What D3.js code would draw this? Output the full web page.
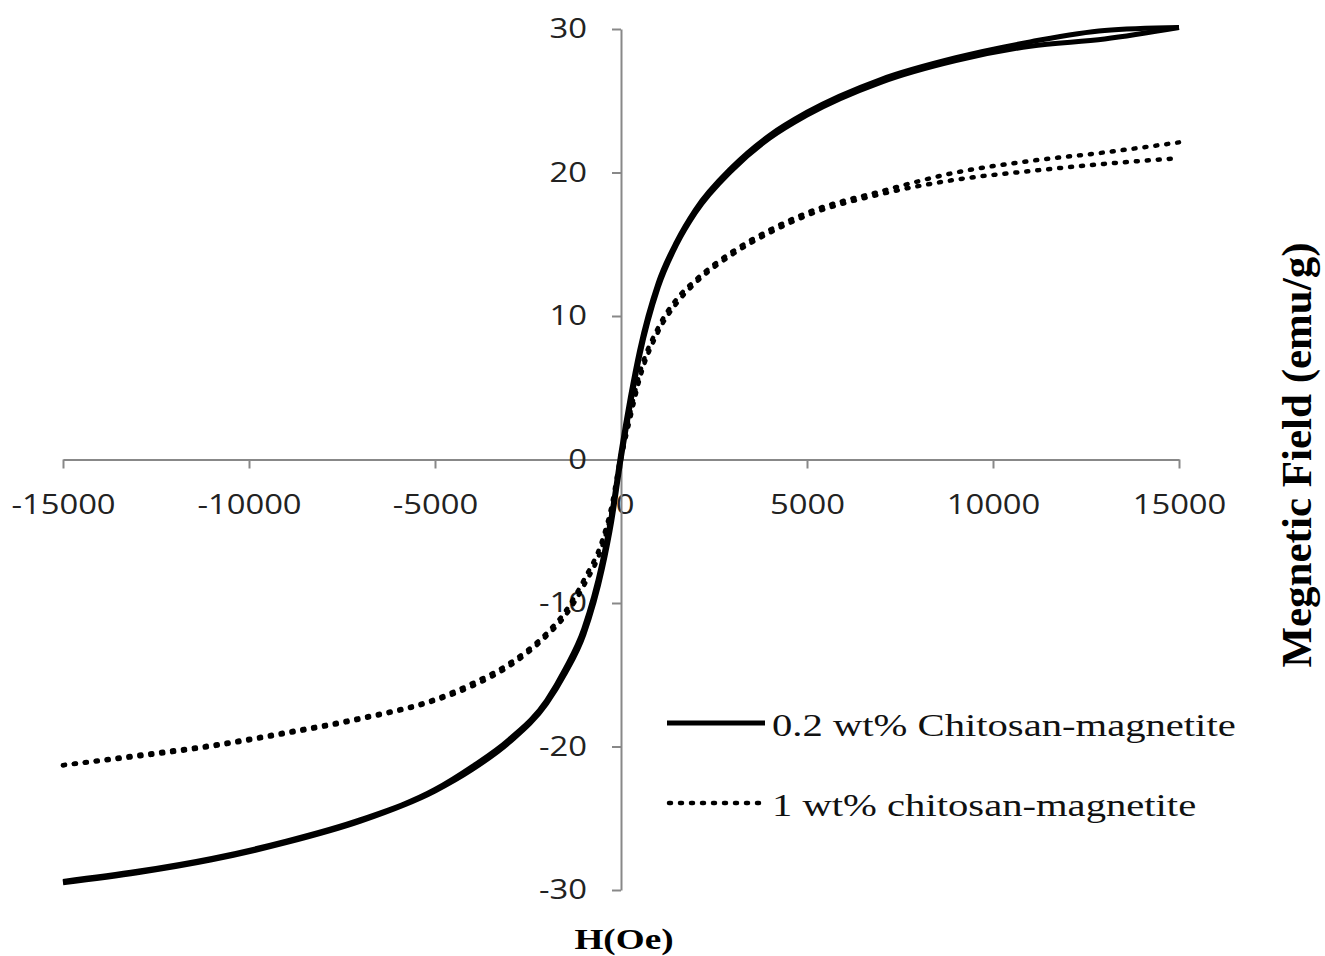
<!DOCTYPE html>
<html><head><meta charset="utf-8">
<script src="https://cdn.jsdelivr.net/npm/d3@7"></script>
<style>body{margin:0;background:#fff}svg{display:block}</style>
</head><body>
<svg id="chart" width="1325" height="956"></svg>
<script>
const H = [-15000,-13000,-11000,-9000,-7000,-5000,-4000,-3000,-2000,-1500,-1000,-500,-250,0,250,500,1000,1500,2000,3000,4000,5000,7000,9000,11000,13000,15000];
// 0.2 wt% Chitosan-magnetite (two branches of the hysteresis loop)
const solidUp   = [-29.5,-28.8,-27.9,-26.7,-25.2,-23.1,-21.6,-19.7,-17.0,-14.9,-12.2,-7.6,-4.3,0.0,3.8,7.2,12.0,15.0,17.2,20.2,22.4,24.0,26.3,27.8,28.8,29.3,30.1];
const solidDown = [-29.4,-28.7,-27.8,-26.6,-25.1,-23.0,-21.4,-19.5,-16.8,-14.6,-11.8,-7.1,-3.8,0.5,4.3,7.6,12.3,15.2,17.4,20.4,22.6,24.2,26.5,28.0,29.1,29.9,30.1];
// 1 wt% chitosan-magnetite
const dotUp   = [-21.3,-20.7,-20.0,-19.1,-18.1,-16.8,-15.8,-14.4,-12.3,-10.9,-8.8,-6.0,-3.6,0.0,2.9,5.6,8.9,10.9,12.3,14.3,15.8,17.0,18.5,19.5,20.1,20.6,21.0];
const dotDown = [-21.3,-20.6,-19.9,-19.0,-18.0,-16.7,-15.6,-14.2,-12.1,-10.6,-8.4,-5.6,-3.2,0.4,3.3,6.0,9.2,11.2,12.5,14.5,16.0,17.2,18.7,20.0,20.8,21.4,22.1];
const xTicks = [-15000,-10000,-5000,0,5000,10000,15000];
const yTicks = [-30,-20,-10,0,10,20,30];
const seriesNames = ["0.2 wt% Chitosan-magnetite","1 wt% chitosan-magnetite"];
const xTitle = "H(Oe)";
const yTitle = "Megnetic Field (emu/g)";

const svg = d3.select("#chart");
const x = d3.scaleLinear().domain([-15000,15000]).range([63,1179]);
const y = d3.scaleLinear().domain([-30,30]).range([890,29]);
const axisColor = "#888";
const sxTick = 1.17, sxText = 1.27;

// x axis at M=0
const gx = svg.append("g").attr("transform",`translate(0,${y(0)})`)
  .call(d3.axisBottom(x).tickValues(xTicks).tickSize(9).tickSizeOuter(0).tickPadding(26).tickFormat(d=>String(d)));
gx.select(".domain").attr("stroke",axisColor).attr("stroke-width",2);
gx.selectAll(".tick line").attr("stroke",axisColor).attr("stroke-width",2);
gx.selectAll(".tick text").attr("font-family","'Open Sans',sans-serif").attr("font-size",28)
  .attr("fill","#222").attr("transform",`scale(${sxTick},1)`).attr("dx",d=>d===0?3:0);

// y axis at H=0
const gy = svg.append("g").attr("transform",`translate(${x(0)},0)`)
  .call(d3.axisLeft(y).tickValues(yTicks).tickSize(9).tickSizeOuter(0).tickPadding(25).tickFormat(d=>String(d)));
gy.select(".domain").attr("stroke",axisColor).attr("stroke-width",2);
gy.selectAll(".tick line").attr("stroke",axisColor).attr("stroke-width",2);
gy.selectAll(".tick text").attr("font-family","'Open Sans',sans-serif").attr("font-size",28)
  .attr("fill","#222").attr("x",-34/sxTick).attr("transform",`scale(${sxTick},1)`);

const line = d3.line().x(d=>x(d[0])).y(d=>y(d[1])).curve(d3.curveMonotoneX);
const mk = arr => H.map((h,i)=>[h,arr[i]]);

[dotUp,dotDown].forEach(arr=>{
  svg.append("path").attr("d",line(mk(arr))).attr("fill","none").attr("stroke","#000")
    .attr("stroke-width",4.5).attr("stroke-linecap","round").attr("stroke-dasharray","2 9");
});
[solidUp,solidDown].forEach(arr=>{
  svg.append("path").attr("d",line(mk(arr))).attr("fill","none").attr("stroke","#000")
    .attr("stroke-width",5).attr("stroke-linejoin","round");
});

// legend
const lg = svg.append("g");
lg.append("line").attr("x1",667).attr("x2",765).attr("y1",723).attr("y2",723)
  .attr("stroke","#000").attr("stroke-width",5);
lg.append("line").attr("x1",669).attr("x2",765).attr("y1",803).attr("y2",803)
  .attr("stroke","#000").attr("stroke-width",4.5).attr("stroke-linecap","round").attr("stroke-dasharray","2 9");
lg.append("text").attr("transform",`translate(772,736) scale(${sxText},1)`).text(seriesNames[0])
  .attr("font-family","'Liberation Serif',serif").attr("font-size",32).attr("fill","#111");
lg.append("text").attr("transform",`translate(772,816) scale(${sxText},1)`).text(seriesNames[1])
  .attr("font-family","'Liberation Serif',serif").attr("font-size",32).attr("fill","#111");

// axis titles
svg.append("text").attr("transform",`translate(624,949) scale(1.24,1)`).attr("text-anchor","middle")
  .attr("font-family","'Liberation Serif',serif").attr("font-weight","bold").attr("font-size",30).text(xTitle);
svg.append("text").attr("transform","translate(1311,455) rotate(-90)").attr("text-anchor","middle")
  .attr("font-family","'Liberation Serif',serif").attr("font-weight","bold").attr("font-size",43).text(yTitle);
</script>
</body></html>
